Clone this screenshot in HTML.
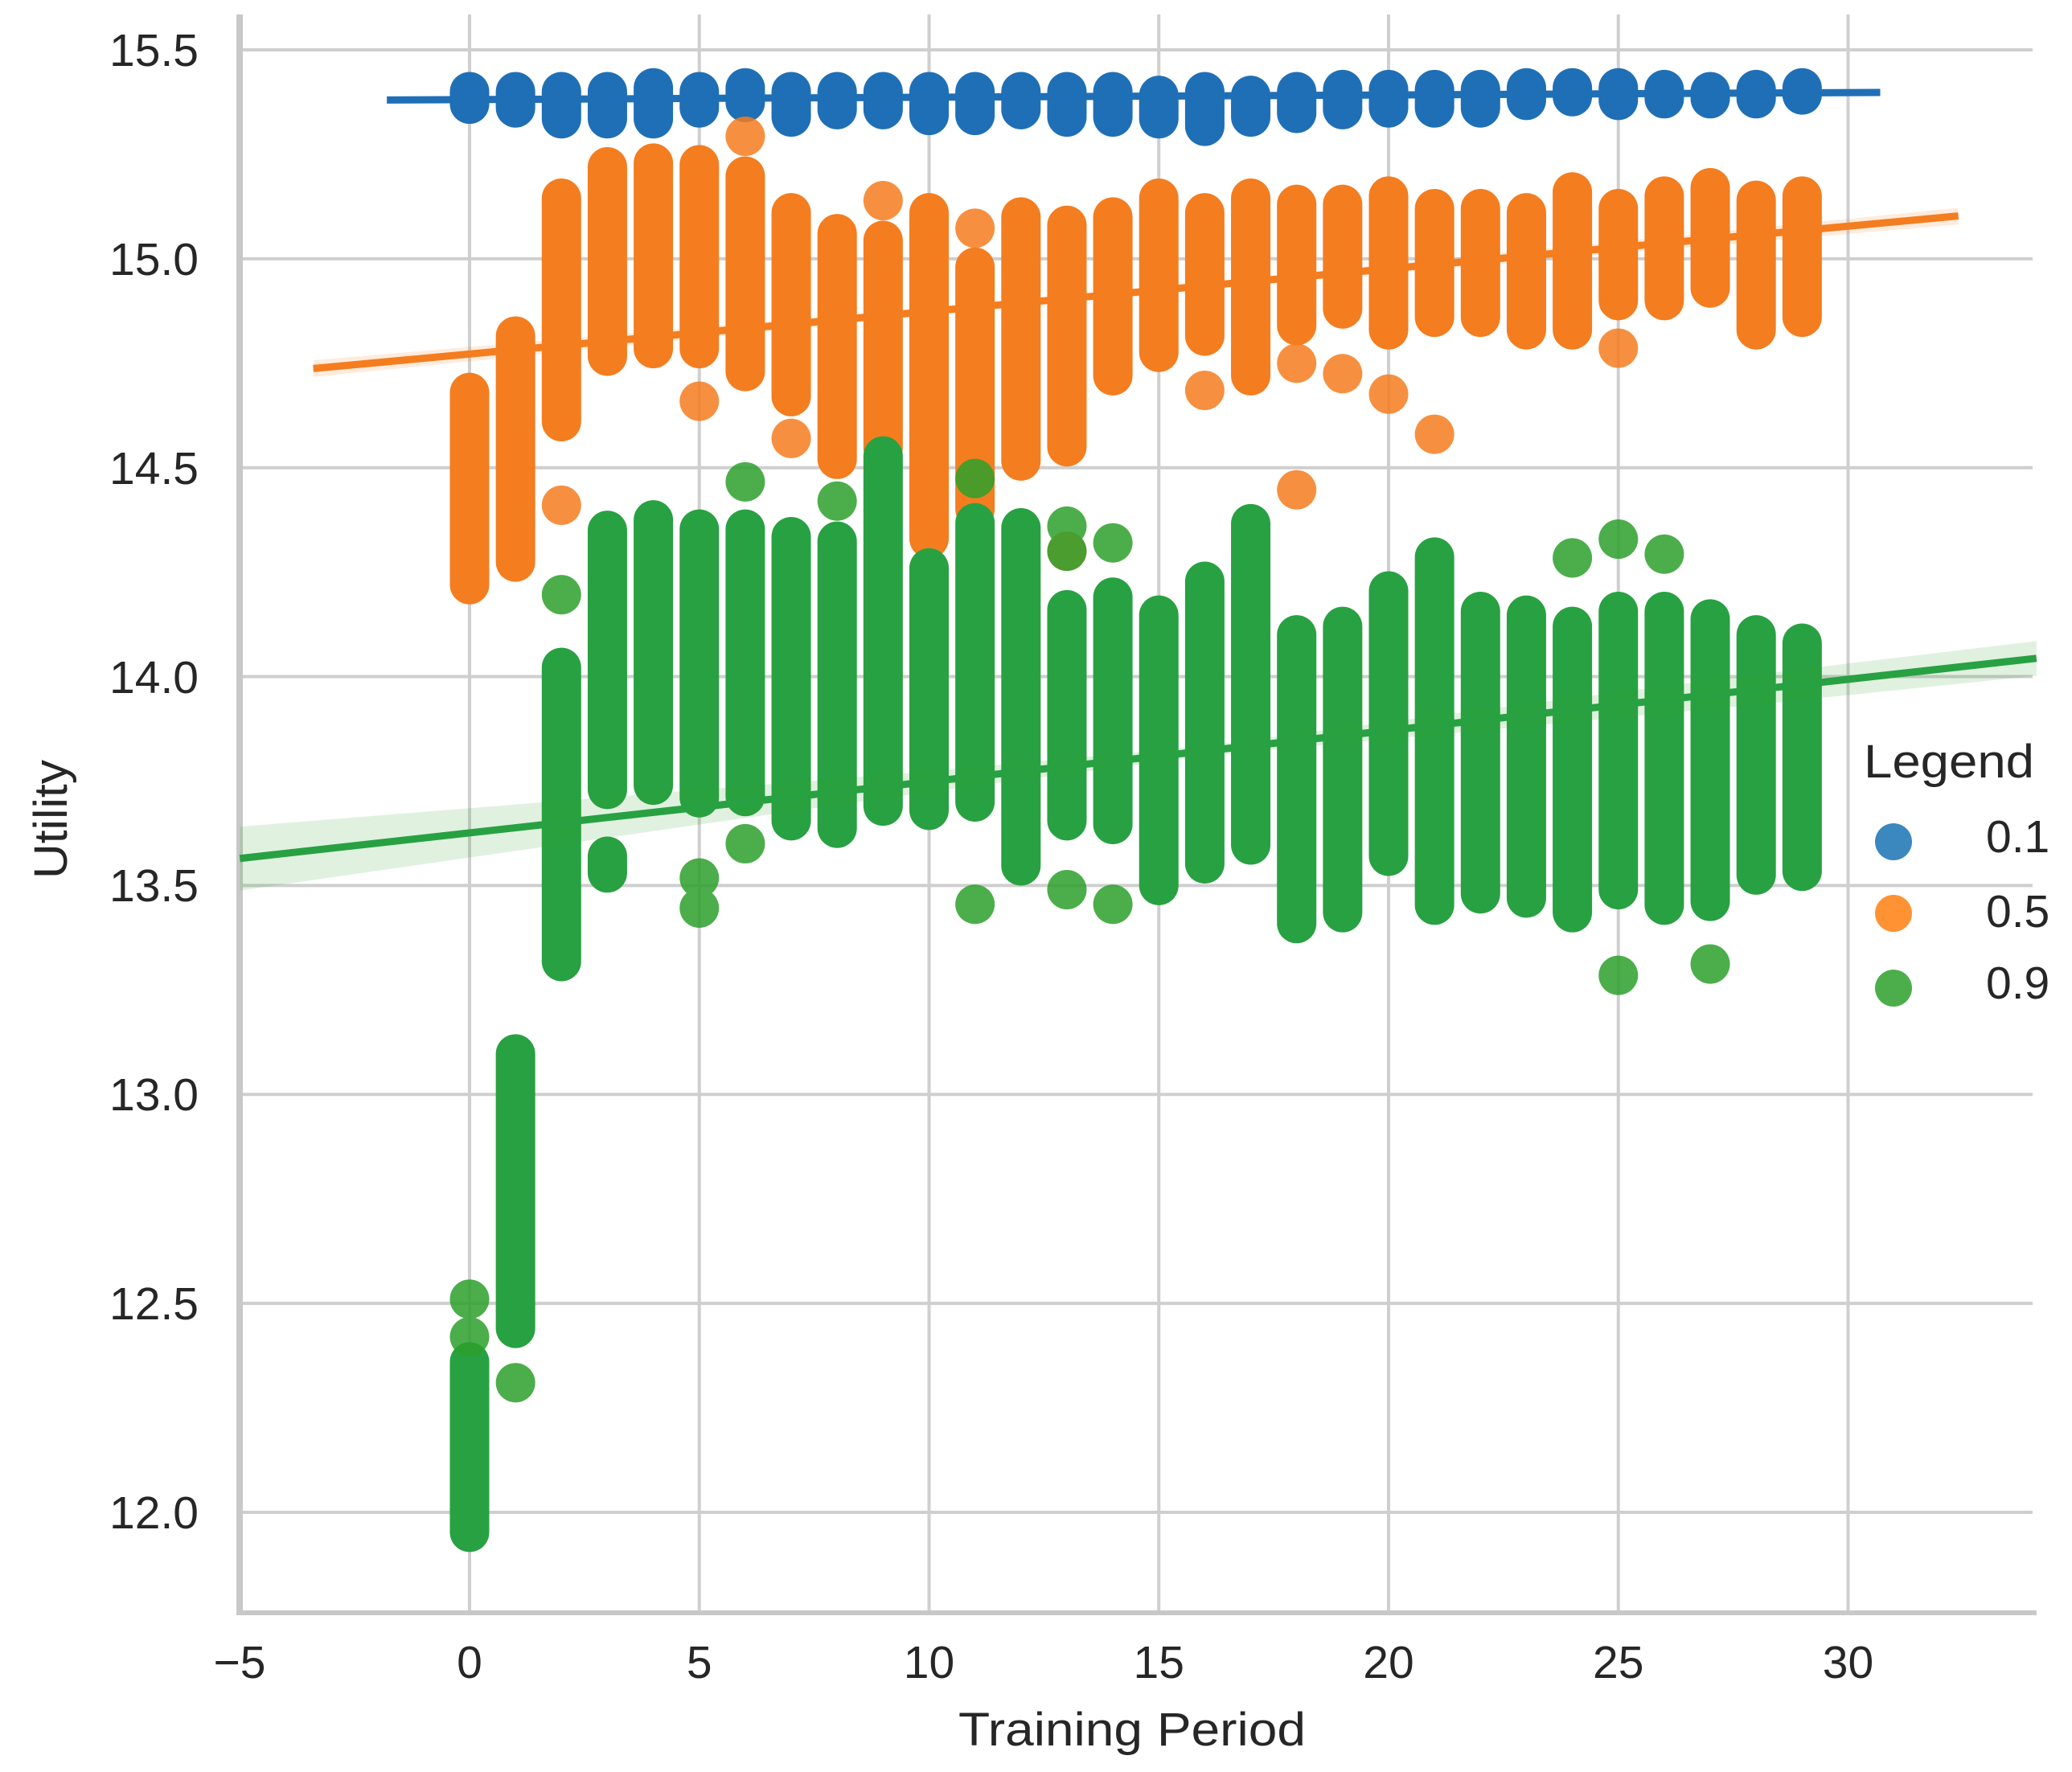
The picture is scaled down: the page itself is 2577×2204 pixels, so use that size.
<!DOCTYPE html>
<html>
<head>
<meta charset="utf-8">
<style>
html,body{margin:0;padding:0;background:#ffffff;}
svg{display:block;}
text{font-family:"Liberation Sans",Arial,sans-serif;fill:#262626;}
</style>
</head>
<body>
<svg width="2577" height="2204" viewBox="0 0 2577 2204" xmlns="http://www.w3.org/2000/svg">
<rect x="0" y="0" width="2577" height="2204" fill="#ffffff"/>

<!-- grid -->
<g stroke="#cfcfcf" stroke-width="4" fill="none">
<line x1="298" y1="62" x2="2528" y2="62"/>
<line x1="298" y1="321.85" x2="2528" y2="321.85"/>
<line x1="298" y1="581.7" x2="2528" y2="581.7"/>
<line x1="298" y1="841.55" x2="2528" y2="841.55"/>
<line x1="298" y1="1101.4" x2="2528" y2="1101.4"/>
<line x1="298" y1="1361.25" x2="2528" y2="1361.25"/>
<line x1="298" y1="1621.1" x2="2528" y2="1621.1"/>
<line x1="298" y1="1880.95" x2="2528" y2="1880.95"/>
<line x1="584" y1="18" x2="584" y2="2006"/>
<line x1="869.75" y1="18" x2="869.75" y2="2006"/>
<line x1="1155.5" y1="18" x2="1155.5" y2="2006"/>
<line x1="1441.25" y1="18" x2="1441.25" y2="2006"/>
<line x1="1727" y1="18" x2="1727" y2="2006"/>
<line x1="2012.75" y1="18" x2="2012.75" y2="2006"/>
<line x1="2298.5" y1="18" x2="2298.5" y2="2006"/>
</g>

<!-- spines -->
<line x1="298" y1="18" x2="298" y2="2009" stroke="#c8c8c8" stroke-width="8"/>
<line x1="294" y1="2006" x2="2533" y2="2006" stroke="#c8c8c8" stroke-width="6"/>

<!-- data -->
<g transform="matrix(57.15,0,0,-519.7,584,8117.35)" fill="none" stroke-linecap="round">
  <!-- blue 0.1 -->
  <path vector-effect="non-scaling-stroke" stroke="#1f6fb6" stroke-width="49"
   d="M0 15.40V15.37 M1 15.40V15.361 M2 15.40V15.335 M3 15.40V15.335 M4 15.409V15.335 M5 15.40V15.361 M6 15.409V15.374 M7 15.40V15.339 M8 15.40V15.357 M9 15.40V15.357 M10 15.40V15.343 M11 15.40V15.343 M12 15.40V15.357 M13 15.40V15.339 M14 15.40V15.339 M15 15.391V15.335 M16 15.40V15.317 M17 15.391V15.339 M18 15.40V15.348 M19 15.405V15.357 M20 15.405V15.361 M21 15.405V15.361 M22 15.405V15.361 M23 15.409V15.379 M24 15.409V15.388 M25 15.409V15.379 M26 15.405V15.383 M27 15.40V15.383 M28 15.405V15.383 M29 15.409V15.392"/>
  <path vector-effect="non-scaling-stroke" stroke="#1f6fb6" stroke-width="9" stroke-linecap="butt" d="M-1.8 15.380 L30.7 15.398"/>

  <!-- orange 0.5 -->
  <path vector-effect="non-scaling-stroke" stroke="#f47d1f" stroke-width="49"
   d="M0 14.68V14.22 M1 14.815V14.274 M2 15.145V14.61 M3 15.22V14.767 M4 15.229V14.785 M5 15.225V14.785 M6 15.198V14.73 M7 15.11V14.67 M8 15.06V14.52 M9 15.044V14.547 M10 15.11V14.33 M11 14.98V14.40 M12 15.10V14.516 M13 15.08V14.55 M14 15.10V14.72 M15 15.145V14.776 M16 15.11V14.815 M17 15.145V14.72 M18 15.13V14.84 M19 15.13V14.88 M20 15.15V14.83 M21 15.12V14.86 M22 15.12V14.86 M23 15.11V14.83 M24 15.16V14.83 M25 15.12V14.90 M26 15.15V14.90 M27 15.17V14.93 M28 15.14V14.83 M29 15.15V14.86"/>
  <path vector-effect="non-scaling-stroke" stroke="#f47d1f" stroke-opacity="0.85" stroke-width="49"
   d="M2 14.41v0.0001 M5 14.659v0.0001 M6 15.293v0.0001 M7 14.57v0.0001 M9 15.139v0.0001 M11 15.073v0.0001 M13 14.30v0.0001 M16 14.685v0.0001 M18 14.75v0.0001 M18 14.447v0.0001 M19 14.725v0.0001 M20 14.676v0.0001 M21 14.58v0.0001 M25 14.786v0.0001"/>
  <polygon fill="#f47d1f" fill-opacity="0.15" stroke="none" points="-3.4,14.757 14,14.921 32.4,15.122 32.4,15.082 14,14.909 -3.4,14.717"/>
  <path vector-effect="non-scaling-stroke" stroke="#f47d1f" stroke-width="9" stroke-linecap="butt" d="M-3.4 14.7373 L32.4 15.1025"/>

  <!-- green 0.9 -->
  <path vector-effect="non-scaling-stroke" stroke="#28a142" stroke-width="49"
   d="M0 12.36V11.952 M1 13.097V12.44 M2 14.022V13.318 M3 14.35V13.73 M3 13.57V13.53 M4 14.375V13.74 M5 14.353V13.71 M6 14.353V13.713 M7 14.335V13.655 M8 14.324V13.637 M9 14.528V13.69 M10 14.26V13.68 M11 14.368V13.70 M12 14.356V13.547 M13 14.16V13.655 M14 14.19V13.646 M15 14.147V13.50 M16 14.228V13.552 M17 14.366V13.597 M18 14.10V13.409 M19 14.12V13.435 M20 14.205V13.57 M21 14.286V13.453 M22 14.156V13.48 M23 14.147V13.47 M24 14.12V13.435 M25 14.156V13.49 M26 14.156V13.453 M27 14.138V13.462 M28 14.10V13.525 M29 14.08V13.534"/>
  <path vector-effect="non-scaling-stroke" stroke="#2ca02c" stroke-opacity="0.85" stroke-width="49"
   d="M0 12.51v0.0001 M0 12.42v0.0001 M1 12.31v0.0001 M2 14.196v0.0001 M5 13.518v0.0001 M5 13.446v0.0001 M6 14.466v0.0001 M6 13.60v0.0001 M8 14.42v0.0001 M11 14.474v0.0001 M11 13.455v0.0001 M13 14.36v0.0001 M13 14.30v0.0001 M13 13.49v0.0001 M14 14.32v0.0001 M14 13.455v0.0001 M24 14.284v0.0001 M25 14.329v0.0001 M25 13.285v0.0001 M26 14.293v0.0001 M27 13.312v0.0001"/>
  <polygon fill="#2ca02c" fill-opacity="0.15" stroke="none"
   points="-5,13.641 0,13.685 5,13.729 10,13.773 16,13.834 22,13.920 28,14.005 34.1,14.085 34.1,14.002 28,13.933 22,13.871 16,13.810 10,13.724 5,13.646 0,13.567 -5,13.488"/>
  <path vector-effect="non-scaling-stroke" stroke="#28a142" stroke-width="9" stroke-linecap="butt" d="M-5 13.5648 L34.1 14.0437"/>
</g>

<!-- y tick labels -->
<g font-size="57" text-anchor="end">
<text x="247" y="82">15.5</text>
<text x="247" y="342">15.0</text>
<text x="247" y="602">14.5</text>
<text x="247" y="862">14.0</text>
<text x="247" y="1121">13.5</text>
<text x="247" y="1381">13.0</text>
<text x="247" y="1641">12.5</text>
<text x="247" y="1901">12.0</text>
</g>

<!-- x tick labels -->
<g font-size="57" text-anchor="middle">
<text x="298" y="2087">−5</text>
<text x="584" y="2087">0</text>
<text x="869.75" y="2087">5</text>
<text x="1155.5" y="2087">10</text>
<text x="1441.25" y="2087">15</text>
<text x="1727" y="2087">20</text>
<text x="2012.75" y="2087">25</text>
<text x="2298.5" y="2087">30</text>
</g>

<!-- axis labels -->
<text x="1192" y="2171" font-size="58" textLength="432" lengthAdjust="spacingAndGlyphs">Training Period</text>
<text transform="translate(83,1019) rotate(-90)" x="0" y="0" font-size="58" text-anchor="middle" textLength="148" lengthAdjust="spacingAndGlyphs">Utility</text>

<!-- legend -->
<text x="2318" y="967" font-size="58" textLength="212" lengthAdjust="spacingAndGlyphs">Legend</text>
<circle cx="2355" cy="1047" r="23" fill="#1f77b4" fill-opacity="0.88"/>
<circle cx="2355" cy="1136" r="23" fill="#ff7f0e" fill-opacity="0.85"/>
<circle cx="2355" cy="1229" r="23" fill="#2ca02c" fill-opacity="0.85"/>
<g font-size="57">
<text x="2470" y="1060">0.1</text>
<text x="2470" y="1153">0.5</text>
<text x="2470" y="1242">0.9</text>
</g>
</svg>
</body>
</html>
